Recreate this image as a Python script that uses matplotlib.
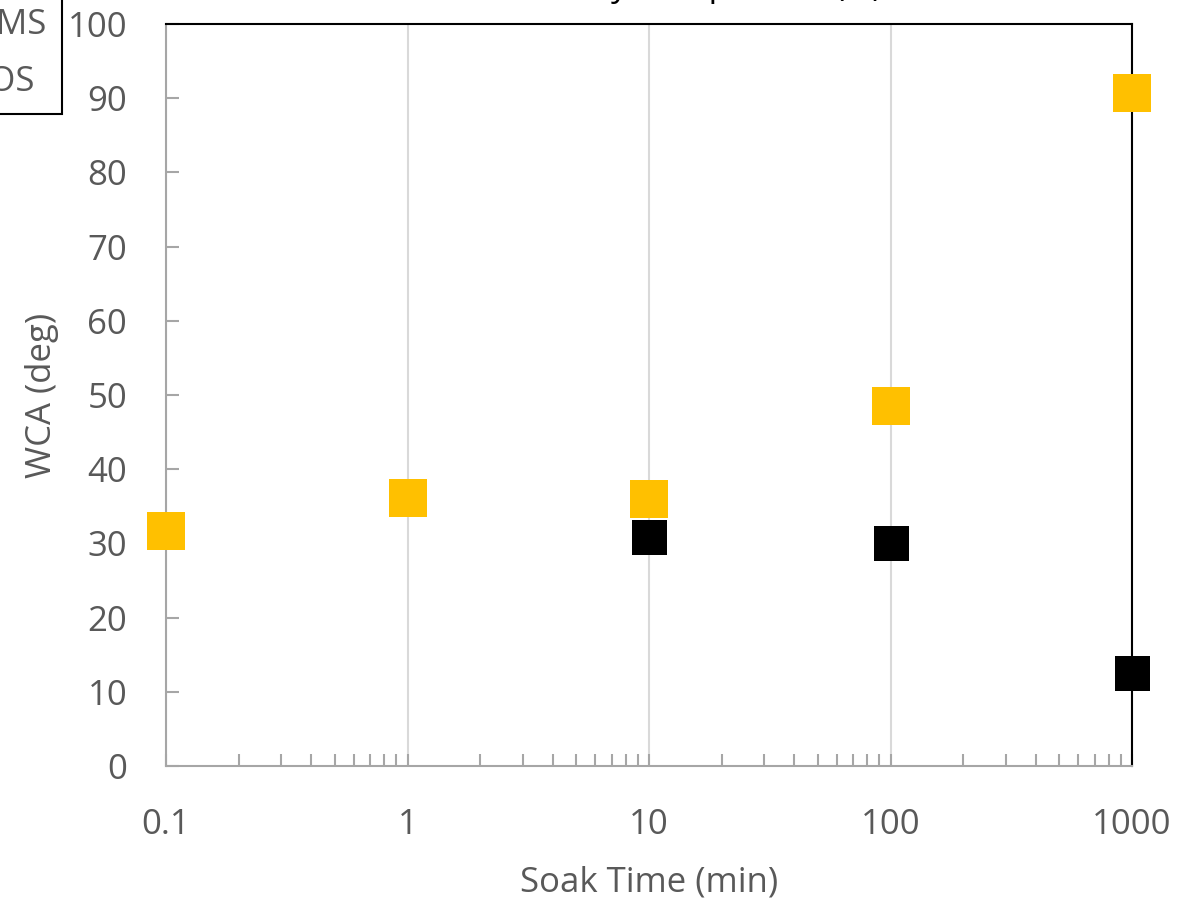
import matplotlib
matplotlib.use("Agg")
import matplotlib.pyplot as plt
from matplotlib.ticker import LogLocator, NullFormatter
from matplotlib.lines import Line2D

plt.rcParams['font.family'] = ['Open Sans', 'DejaVu Sans']

# soak time (min) and water contact angle (deg)
soak_black = [1, 10, 100, 1000]
wca_black = [36.4, 30.9, 30.0, 12.6]

soak_gold = [0.1, 1, 10, 100, 1000]
wca_gold = [31.7, 36.1, 36.0, 48.5, 90.7]

labels = ['PDMS', 'TEOS']
xticks = [0.1, 1, 10, 100, 1000]
xtick_labels = ['0.1', '1', '10', '100', '1000']

grey_txt = '#595959'
axis_grey = '#A6A6A6'

fig = plt.figure(figsize=(11.88, 9.02), dpi=100)
ax = fig.add_axes([166/1188, 1-766/902, (1132-166)/1188, (766-24)/902])

ax.plot(soak_black, wca_black, 's', color='black', ms=25.2, mew=0, zorder=3, clip_on=False)
ax.plot(soak_gold, wca_gold, 's', color='#FFC000', ms=27.4, mew=0, zorder=4, clip_on=False)

ax.set_xscale('log')
ax.set_xlim(0.1, 1000)
ax.set_ylim(0, 100)
ax.set_xticks(xticks)
ax.set_xticklabels(xtick_labels)
ax.xaxis.set_minor_locator(LogLocator(base=10, subs=range(2, 10)))
ax.xaxis.set_minor_formatter(NullFormatter())
ax.set_yticks(range(0, 101, 10))

ax.grid(axis='x', which='major', color='#D9D9D9', lw=1.5, zorder=0)
ax.set_axisbelow(True)

for s in ['left', 'bottom']:
    ax.spines[s].set_color(axis_grey)
    ax.spines[s].set_linewidth(1.5)
for s in ['top', 'right']:
    ax.spines[s].set_color('black')
    ax.spines[s].set_linewidth(1.5)

ax.tick_params(axis='y', direction='in', length=9, width=1.5, color=axis_grey,
               labelsize=25, labelcolor=grey_txt, pad=28)
ax.tick_params(axis='x', which='major', direction='in', length=9, width=1.5, color=axis_grey,
               labelsize=25, labelcolor=grey_txt, pad=30)
ax.tick_params(axis='x', which='minor', direction='in', length=9, width=1.5, color=axis_grey)

ax.set_xlabel('Soak Time (min)', fontsize=25, color=grey_txt, labelpad=17)
ax.set_ylabel('WCA (deg)', fontsize=25, color=grey_txt, labelpad=6)

# title sits mostly above the canvas, only descenders show
fig.text(0.584, 1 + 4/902, 'Stability Comparison (%)', fontsize=24, color='black',
         ha='center', va='baseline')

handles = [Line2D([], [], ls='', marker='s', color='black', ms=16),
           Line2D([], [], ls='', marker='s', color='#FFC000', ms=16)]
leg = fig.legend(handles, labels, loc='lower right',
                 bbox_to_anchor=(62/1188, 1-114/902), bbox_transform=fig.transFigure,
                 borderaxespad=0, fontsize=25, frameon=True, fancybox=False,
                 edgecolor='black', framealpha=1, labelspacing=0.65,
                 borderpad=0.43, handletextpad=0.4)
leg.get_frame().set_linewidth(1.5)
for t in leg.get_texts():
    t.set_color(grey_txt)

fig.savefig('out.png', dpi=100)
